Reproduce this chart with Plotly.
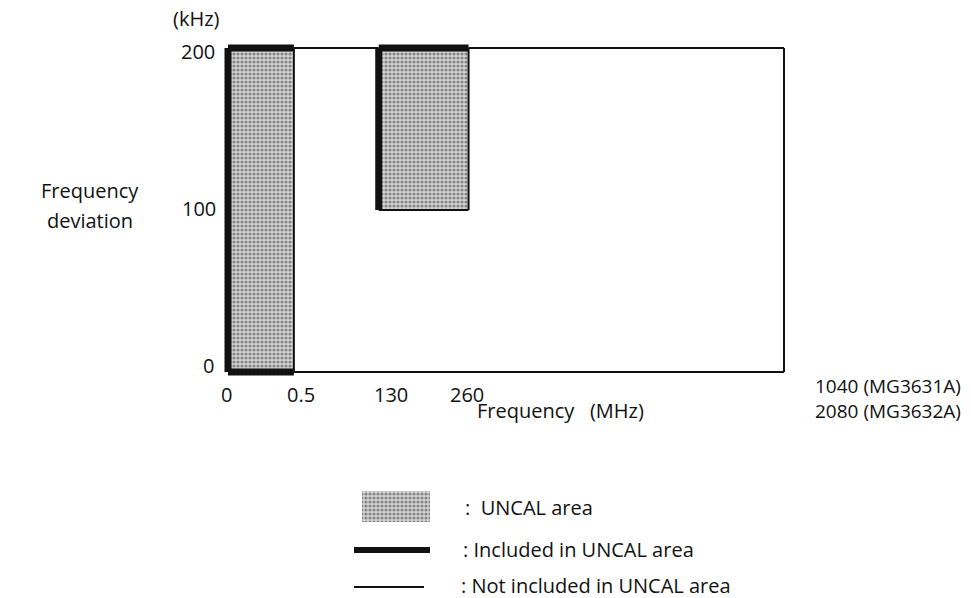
import numpy as np
import plotly.graph_objects as go

# ---- data ----
break_freqs = [0, 0.5, 130, 260, 1040]          # MHz breakpoints on the schematic x axis
x_tick_labels = ["0", "0.5", "130", "260", ""]
y_ticks = [0, 100, 200]                          # kHz
y_tick_labels = ["0", "100", "200"]
x_end_labels = ["1040 (MG3631A)", "2080 (MG3632A)"]

uncal_freq_lo = [0, 130]
uncal_freq_hi = [0.5, 260]
uncal_dev_lo = [0, 100]
uncal_dev_hi = [200, 200]

# boundaries included in UNCAL area (thick)  : (f0, d0, f1, d1)
incl_f0 = [0, 0, 0, 130, 130]
incl_d0 = [0, 200, 0, 100, 200]
incl_f1 = [0, 0.5, 0.5, 130, 260]
incl_d1 = [200, 200, 0, 200, 200]

# boundaries not included (thin)
excl_f0 = [0.5, 260, 1040, 0.5, 0.5, 130, 260]
excl_d0 = [200, 200, 200, 0, 0, 100, 100]
excl_f1 = [130, 1040, 1040, 1040, 0.5, 260, 260]
excl_d1 = [200, 200, 0, 0, 200, 100, 200]

# ---- schematic (non-linear) x scale: pixel offsets of the breakpoints ----
break_pos = [0, 66, 151, 241, 557]
def xs(f):
    return float(np.interp(f, break_freqs, break_pos))

W, H = 971, 598
def X(px): return px / W
def Y(py): return 1 - py / H

FONT = "Open Sans"
FS = 20
TXT = "#111111"
PAT = dict(shape=".", fgcolor="#333333", bgcolor="#d6d6d6", size=4, solidity=0.5)

fig = go.Figure()

# UNCAL areas
for lo, hi, dlo, dhi in zip(uncal_freq_lo, uncal_freq_hi, uncal_dev_lo, uncal_dev_hi):
    fig.add_trace(go.Scatter(
        x=[xs(lo), xs(hi), xs(hi), xs(lo), xs(lo)],
        y=[dlo, dlo, dhi, dhi, dlo], mode="lines", fill="toself",
        fillpattern=PAT, fillcolor="#d6d6d6", line=dict(width=0),
        hoverinfo="skip", showlegend=False))

# thin boundaries
for f0, d0, f1, d1 in zip(excl_f0, excl_d0, excl_f1, excl_d1):
    fig.add_trace(go.Scatter(x=[xs(f0), xs(f1)], y=[d0, d1], mode="lines",
                             line=dict(color="#111", width=2), showlegend=False, hoverinfo="skip"))
# thick boundaries
for f0, d0, f1, d1 in zip(incl_f0, incl_d0, incl_f1, incl_d1):
    fig.add_trace(go.Scatter(x=[xs(f0), xs(f1)], y=[d0, d1], mode="lines",
                             line=dict(color="#111", width=7), showlegend=False, hoverinfo="skip"))

# ---- legend samples in a second small axis (pixel units) ----
fig.add_trace(go.Scatter(x=[362, 430, 430, 362, 362], y=[491, 491, 522, 522, 491],
                         mode="lines", fill="toself", fillpattern=PAT, fillcolor="#d6d6d6",
                         line=dict(width=0), xaxis="x2", yaxis="y2", showlegend=False, hoverinfo="skip"))
fig.add_trace(go.Scatter(x=[354, 430], y=[550, 550], mode="lines", line=dict(color="#111", width=6),
                         xaxis="x2", yaxis="y2", showlegend=False, hoverinfo="skip"))
fig.add_trace(go.Scatter(x=[354, 424], y=[587, 587], mode="lines", line=dict(color="#111", width=2),
                         xaxis="x2", yaxis="y2", showlegend=False, hoverinfo="skip"))

ann = []
def txt(px, py, s, xa="center", size=FS):
    ann.append(dict(x=X(px), y=Y(py), xref="paper", yref="paper", text=s, showarrow=False,
                    xanchor=xa, yanchor="middle", align="left",
                    font=dict(family=FONT, size=size, color=TXT)))

# y tick labels
ylab_pos = {0: (216, 365), 100: (218, 208), 200: (217, 52)}
for v, lab in zip(y_ticks, y_tick_labels):
    px, py = ylab_pos[v]
    txt(px, py, lab, xa="right")
txt(222, 19, "(kHz)", xa="right")
txt(90, 190, "Frequency")
txt(90, 220, "deviation")

# x tick labels
xlab_off = {0: -2, 0.5: 7, 130: 12, 260: -2}
for f, lab in zip(break_freqs, x_tick_labels):
    if lab:
        txt(228 + xs(f) + xlab_off.get(f, 0), 394, lab)
txt(813, 398, "<br>".join(x_end_labels), xa="left", size=19)
txt(560, 410, "Frequency   (MHz)")

# legend texts
txt(463, 507, ":  UNCAL area", xa="left")
txt(461, 549, ": Included in UNCAL area", xa="left")
txt(459, 585, ": Not included in UNCAL area", xa="left")

ax_hidden = dict(visible=False, showgrid=False, zeroline=False, fixedrange=True)
fig.update_layout(
    width=W, height=H, margin=dict(l=0, r=0, t=0, b=0),
    paper_bgcolor="white", plot_bgcolor="rgba(0,0,0,0)",
    xaxis=dict(domain=[X(224), X(788)], range=[-4, 561], **ax_hidden),
    yaxis=dict(domain=[Y(376), Y(44)], range=[-2.47, 202.47], **ax_hidden),
    xaxis2=dict(domain=[X(320), X(450)], range=[320, 450], anchor="y2", **ax_hidden),
    yaxis2=dict(domain=[Y(598), Y(480)], range=[598, 480], anchor="x2", **ax_hidden),
    annotations=ann, showlegend=False,
)

fig.write_html("out.html", config={"displayModeBar": False},
               post_script="document.body.style.margin='0';document.body.style.padding='0';")
